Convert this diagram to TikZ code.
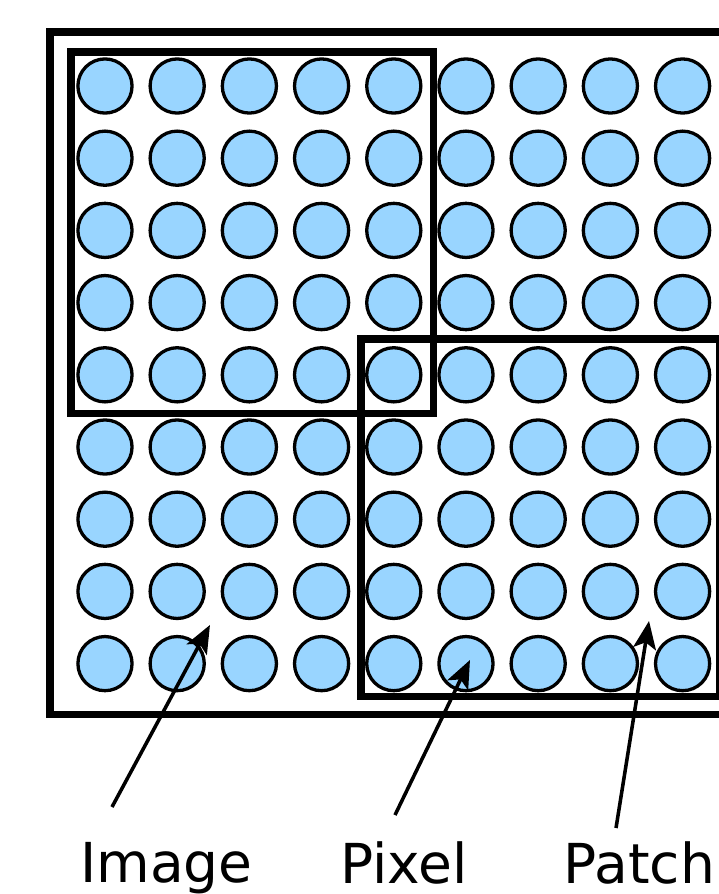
\documentclass[tikz,border=0pt]{standalone}
\usepackage{fontspec}
\setmainfont{DejaVu Sans}
\usepackage{tikz}
\usetikzlibrary{arrows.meta, positioning}
\usepackage{xcolor}
\definecolor{pixelcol}{RGB}{153,213,255}
\tikzset{
  pix/.style={circle, draw=black, fill=pixelcol, line width=1.3pt,
    minimum size=0.75cm, inner sep=0pt},
  frameImg/.style={draw=black, line width=3pt},
  framePatch/.style={draw=black, line width=3.1pt},
  arr/.style={-{Stealth[length=11pt, width=9pt, inset=2.5pt]}, line width=1.4pt},
  lbl/.style={font=\fontsize{21.7}{24}\selectfont, anchor=base, inner sep=0pt},
}

\begin{document}
\begin{tikzpicture}
  % 1 unit = pixel pitch, row r at y=-r
  \useasboundingbox (-1.454,1.191) rectangle (8.504,-11.191);

  % Image frame
  \draw[frameImg] (-0.762,0.748) rectangle (8.66,-8.705);

  % Pixels (9 x 9 grid)
  \foreach \r in {0,...,8}{
    \foreach \c in {0,...,8}{
      \node[pix] (p-\r-\c) at (\c,-\r) {};
    }
  }

  % Patches
  \draw[framePatch] (-0.465,0.471) rectangle (4.55,-4.536);
  \draw[framePatch] (3.546,-3.504) rectangle (8.52,-8.456);

  % Labels
  \node[lbl] (lblImage) at (0.852,-11.03) {Image};
  \node[lbl] (lblPixel) at (4.14,-11.05) {Pixel};
  \node[lbl] (lblPatch) at (7.40,-11.05) {Patch};

  % Arrow ends
  \coordinate (imgFrom) at (0.097,-9.986);
  \coordinate (imgTo)   at (1.454,-7.465);
  \coordinate (pixFrom) at (4.017,-10.097);
  \coordinate (pixTo)   at (5.055,-7.95);
  \coordinate (patFrom) at (7.078,-10.277);
  \coordinate (patTo)   at (7.535,-7.41);

  \draw[arr] (imgFrom) -- (imgTo);
  \draw[arr] (pixFrom) -- (pixTo);
  \draw[arr] (patFrom) -- (patTo);
\end{tikzpicture}
\end{document}
